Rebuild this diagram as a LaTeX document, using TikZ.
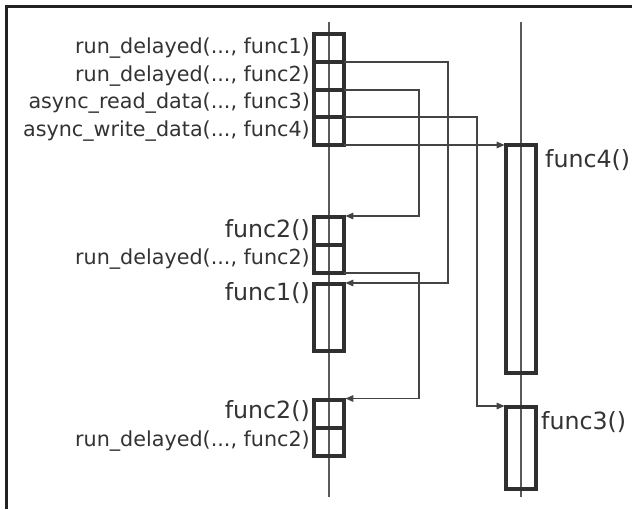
\documentclass[tikz,border=0pt]{standalone}
\usepackage{fontspec}
\setmainfont{DejaVu Sans}
\usetikzlibrary{arrows.meta}
\definecolor{ink}{HTML}{333333}
\definecolor{boxline}{HTML}{303030}
\definecolor{lifeline}{HTML}{5A5A5A}
\definecolor{wire}{HTML}{444444}
\definecolor{frame}{HTML}{222222}
\begin{document}
\begin{tikzpicture}[x=1pt,y=-1pt,
  callbox/.style={draw=boxline,line width=3.2pt,minimum width=30pt,inner sep=0pt,outer sep=0pt,anchor=north west},
  smalllabel/.style={text=ink,inner sep=0pt,font=\fontsize{20.7}{24}\selectfont},
  biglabel/.style={text=ink,inner sep=0pt,font=\fontsize{23.7}{28}\selectfont},
  lifeline/.style={draw=lifeline,line width=1.5pt},
  conn/.style={draw=wire,line width=1.5pt,-{Triangle[length=8pt,width=6.5pt]},shorten >=1.4pt},
]
\useasboundingbox (0,0) rectangle (632,509);
\fill[white] (0,0) rectangle (632,509);
% outer frame (top and left edges)
\draw[frame,line width=3pt] (6,509) -- (6,6) -- (632,6);

% lifelines
\coordinate (l1top) at (329,22);
\coordinate (l1bot) at (329,497);
\coordinate (l2top) at (521,22);
\coordinate (l2bot) at (521,497);
\draw[lifeline] (l1top) -- (l1bot);
\draw[lifeline] (l2top) -- (l2bot);

% activation boxes on the first lifeline
\node[callbox,minimum height=28pt] (b1) at (314,34) {};
\node[callbox,minimum height=28pt] (b2) at (314,62) {};
\node[callbox,minimum height=27pt] (b3) at (314,90) {};
\node[callbox,minimum height=28pt] (b4) at (314,117) {};
\node[callbox,minimum height=28pt] (b5) at (314,217) {};
\node[callbox,minimum height=28pt] (b6) at (314,245) {};
\node[callbox,minimum height=67pt] (b7) at (314,284) {};
\node[callbox,minimum height=28pt] (b8) at (314,400) {};
\node[callbox,minimum height=28pt] (b9) at (314,428) {};

% activation boxes on the second lifeline
\node[callbox,minimum height=228pt] (f4) at (506,145) {};
\node[callbox,minimum height=82pt] (f3) at (506,407) {};

% labels
\node[smalllabel,anchor=base east] (lb1) at (310,53.3) {run\_delayed(..., func1)};
\node[smalllabel,anchor=base east] (lb2) at (310,81) {run\_delayed(..., func2)};
\node[smalllabel,anchor=base east] (lb3) at (310,108.7) {async\_read\_data(..., func3)};
\node[smalllabel,anchor=base east] (lb4) at (310,136.5) {async\_write\_data(..., func4)};
\node[biglabel,anchor=base east] (lb5) at (310,237.7) {func2()};
\node[smalllabel,anchor=base east] (lb6) at (310,264) {run\_delayed(..., func2)};
\node[biglabel,anchor=base east] (lb7) at (310,300.7) {func1()};
\node[biglabel,anchor=base east] (lb8) at (310,418.3) {func2()};
\node[smalllabel,anchor=base east] (lb9) at (310,446) {run\_delayed(..., func2)};
\node[biglabel,anchor=base west] (lf4) at (545,167.7) {func4()};
\node[biglabel,anchor=base west] (lf3) at (541,429) {func3()};

% callbacks
\draw[conn] (b1.south east) -- ++(104,0) |- ([yshift=1pt]b7.north east);
\draw[conn] (b2.south east) -- ++(75,0) |- ([yshift=1pt]b5.north east);
\draw[conn] (b3.south east) -- ++(133,0) |- ([yshift=1pt]f3.north west);
\draw[conn] (b4.south east) -- (f4.north west);
\draw[conn] (b6.south east) -- ++(75,0) |- ([yshift=1.5pt]b8.north east);
\end{tikzpicture}
\end{document}
